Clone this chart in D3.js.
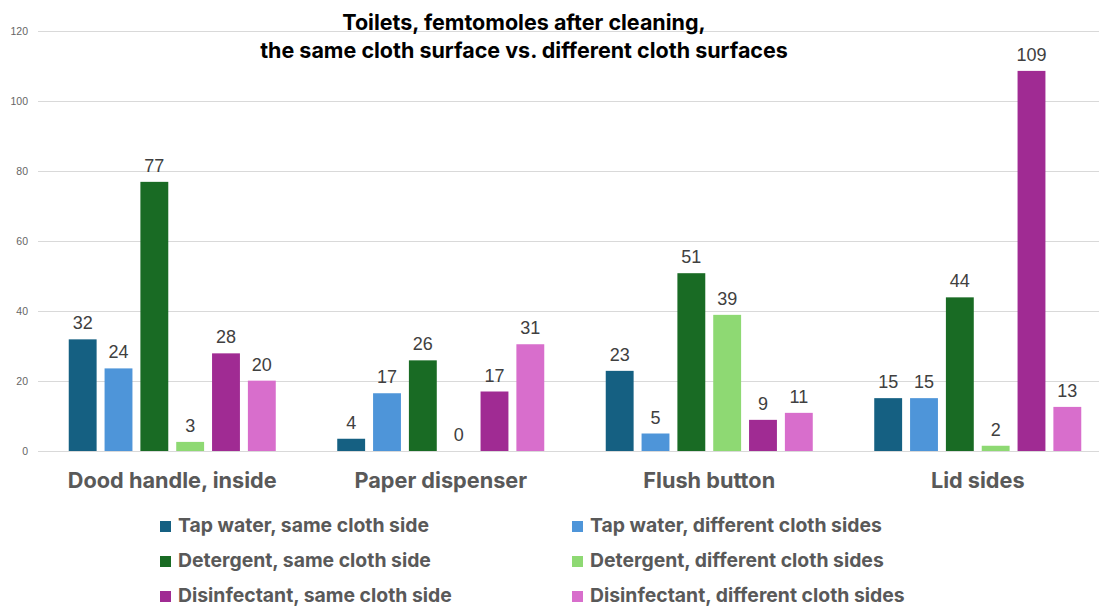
<!DOCTYPE html>
<html>
<head>
<meta charset="utf-8">
<script src="https://cdn.jsdelivr.net/npm/d3@7"></script>
<style>
  html, body { margin: 0; padding: 0; background: #fff; }
  svg { display: block; }
</style>
</head>
<body>
<svg id="chart" width="1099" height="606"></svg>
<script>
// ---------------- DATA ----------------
const titleLines = ["Toilets, femtomoles after cleaning,", "the same cloth surface vs. different cloth surfaces"];
const categories = ["Dood handle, inside", "Paper dispenser", "Flush button", "Lid sides"];
const seriesNames = [
  "Tap water, same cloth side",
  "Tap water, different cloth sides",
  "Detergent, same cloth side",
  "Detergent, different cloth sides",
  "Disinfectant, same cloth side",
  "Disinfectant, different cloth sides"
];
const seriesColors = ["#156082", "#4E95D9", "#196B24", "#8ED973", "#A02B93", "#D86ECC"];
// bar heights
const tapSame = [31.9, 3.5, 22.9, 15.1];
const tapDiff = [23.6, 16.5, 5.0, 15.1];
const detSame = [76.9, 25.9, 50.8, 43.9];
const detDiff = [2.6, 0, 38.9, 1.5];
const disSame = [27.9, 17.0, 8.9, 108.6];
const disDiff = [20.1, 30.5, 10.9, 12.6];
// printed data labels
const tapSameLbl = [32, 4, 23, 15];
const tapDiffLbl = [24, 17, 5, 15];
const detSameLbl = [77, 26, 51, 44];
const detDiffLbl = [3, 0, 39, 2];
const disSameLbl = [28, 17, 9, 109];
const disDiffLbl = [20, 31, 11, 13];
const yTicks = [0, 20, 40, 60, 80, 100, 120];

const seriesValues = [tapSame, tapDiff, detSame, detDiff, disSame, disDiff];
const seriesLabels = [tapSameLbl, tapDiffLbl, detSameLbl, detDiffLbl, disSameLbl, disDiffLbl];

// ---------------- LAYOUT ----------------
const svg = d3.select("#chart");
const W = 1099, H = 606;
const plot = { left: 38, right: 1112, top: 31, bottom: 451 };

const x0 = d3.scaleBand().domain(categories).range([plot.left, plot.right])
  .paddingInner(0.229).paddingOuter(0.1145);
const x1 = d3.scaleBand().domain(seriesNames).range([0, x0.bandwidth()]).paddingInner(0.222).paddingOuter(0);
const y = d3.scaleLinear().domain([0, 120]).range([plot.bottom, plot.top]);

// gridlines
const grid = svg.append("g").attr("class", "grid");
grid.selectAll("line").data(yTicks).join("line")
  .attr("x1", plot.left).attr("x2", W)
  .attr("y1", d => y(d) + 0.5).attr("y2", d => y(d) + 0.5)
  .attr("stroke", "#d9d9d9").attr("stroke-width", 1);

// y axis labels
const yAxis = d3.axisLeft(y).tickValues(yTicks).tickSize(0).tickPadding(0);
const yg = svg.append("g").attr("transform", `translate(28,0)`).call(yAxis);
yg.select(".domain").remove();
yg.selectAll("text")
  .attr("font-family", "Liberation Sans, Arial, sans-serif")
  .attr("font-size", 10.5).attr("fill", "#666");

// bars
const rows = [];
categories.forEach((c, ci) => {
  seriesNames.forEach((s, si) => {
    rows.push({ cat: c, ser: s, si, v: seriesValues[si][ci], lbl: seriesLabels[si][ci] });
  });
});

const groups = svg.append("g").attr("class", "bars");
groups.selectAll("rect").data(rows).join("rect")
  .attr("x", d => x0(d.cat) + x1(d.ser))
  .attr("width", x1.bandwidth())
  .attr("y", d => y(d.v))
  .attr("height", d => y(0) - y(d.v))
  .attr("fill", d => seriesColors[d.si]);

svg.append("g").selectAll("text").data(rows).join("text")
  .attr("x", d => x0(d.cat) + x1(d.ser) + x1.bandwidth() / 2)
  .attr("y", d => y(d.v) - 10)
  .attr("text-anchor", "middle")
  .attr("font-family", "Liberation Sans, Arial, sans-serif")
  .attr("font-size", 18)
  .attr("fill", "#404040")
  .text(d => d.lbl);

// helper: fit font size to target width
function fitSize(sel, sample, target, base) {
  const t = svg.append("text").attr("font-family", sel.family).attr("font-weight", sel.weight)
    .attr("font-size", base).text(sample);
  const w = t.node().getComputedTextLength();
  t.remove();
  return base * target / w;
}

// category labels
const catFont = { family: "Inter, Liberation Sans, sans-serif", weight: 700 };
const catSize = fitSize(catFont, categories[0], 209, 20);
svg.append("g").selectAll("text").data(categories).join("text")
  .attr("x", d => x0(d) + x0.bandwidth() / 2)
  .attr("y", 488)
  .attr("text-anchor", "middle")
  .attr("font-family", catFont.family).attr("font-weight", 700)
  .attr("font-size", catSize)
  .attr("fill", "#595959")
  .text(d => d);

// title
const titleFont = { family: "Inter, Liberation Sans, sans-serif", weight: 700 };
const titleSize = fitSize(titleFont, titleLines[1], 528, 20);
svg.append("g").selectAll("text").data(titleLines).join("text")
  .attr("x", 524)
  .attr("y", (d, i) => 30 + i * 28)
  .attr("text-anchor", "middle")
  .attr("font-family", titleFont.family).attr("font-weight", 700)
  .attr("font-size", titleSize)
  .attr("fill", "#000")
  .text(d => d);

// legend
const legFont = { family: "Inter, Liberation Sans, sans-serif", weight: 700 };
const legSize = fitSize(legFont, seriesNames[0], 251, 18);
const leg = svg.append("g").selectAll("g").data(seriesNames).join("g")
  .attr("transform", (d, i) => `translate(${i % 2 === 0 ? 160 : 572},${532 + Math.floor(i / 2) * 35})`);
leg.append("rect").attr("x", 0).attr("y", -11).attr("width", 11).attr("height", 11)
  .attr("fill", (d, i) => seriesColors[i]);
leg.append("text").attr("x", 18).attr("y", 0)
  .attr("font-family", legFont.family).attr("font-weight", 700)
  .attr("font-size", legSize).attr("fill", "#595959")
  .text(d => d);
</script>
</body>
</html>
